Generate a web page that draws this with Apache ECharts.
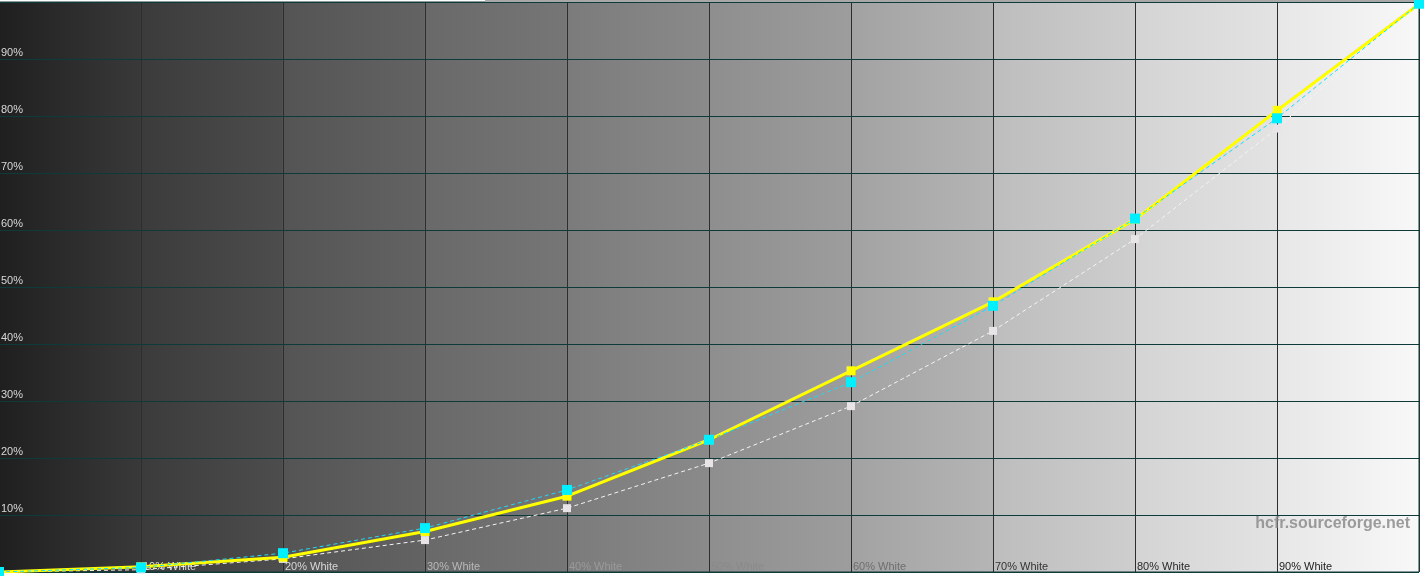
<!DOCTYPE html>
<html>
<head>
<meta charset="utf-8">
<script src="https://cdn.jsdelivr.net/npm/echarts@6/dist/echarts.min.js"></script>
<style>
  html, body { margin: 0; padding: 0; background: #ffffff; }
  #main { width: 1424px; height: 576px; }
</style>
</head>
<body>
<div id="main"></div>
<script>
// stimulus levels (% white)
var levels = [0, 10, 20, 30, 40, 50, 60, 70, 80, 90, 100];
// measured luminance (%)
var measured = [0, 0.9, 2.6, 7.1, 13.3, 23.2, 35.3, 47.4, 61.9, 81.0, 99.7];
var reference = [0, 0.8, 3.3, 7.7, 14.4, 23.2, 33.3, 46.7, 62.0, 79.6, 99.7];
var target = [0, 0.4, 2.3, 5.6, 11.2, 19.1, 29.1, 42.3, 58.4, 77.8, 100];
var yTicks = ['', '10%', '20%', '30%', '40%', '50%', '60%', '70%', '80%', '90%', ''];
var xTicks = ['', '10% White', '20% White', '30% White', '40% White', '50% White',
              '60% White', '70% White', '80% White', '90% White', ''];
var xTickColors = ['#ddd', '#dddddd', '#d8d8d8', '#b8b8b8', '#9a9a9a', '#8a8a8a',
                   '#6e6e6e', '#333333', '#2a2a2a', '#222222', '#222'];

function pairs(vals) {
    return levels.map(function (l, i) { return [l, vals[i]]; });
}

var myChart = echarts.init(document.getElementById('main'));

// grey ramp behind the plot, one step per 10% column
var ramp = ['#1f1f1f', '#393939', '#3b3b3b', '#4d4d4d', '#545454', '#636363', '#696969', '#767676',
            '#7b7b7b', '#8a8a8a', '#8e8e8e', '#9d9d9d', '#a2a2a2', '#b5b5b5', '#bdbdbd', '#cecece',
            '#d4d4d4', '#e3e3e3', '#e7e7e7', '#f8f8f8'];
var stops = [];
for (var i = 0; i < 10; i++) {
    stops.push({ offset: i / 10, color: ramp[i * 2] });
    stops.push({ offset: (i + 1) / 10 - 0.0005, color: ramp[i * 2 + 1] });
}

var option = {
    animation: false,
    backgroundColor: '#ffffff',
    grid: {
        left: -1, right: 5, top: 2, bottom: 4,
        outerBoundsMode: 'none',
        containLabel: false,
        show: true,
        backgroundColor: new echarts.graphic.LinearGradient(0, 0, 1, 0, stops),
        borderColor: '#123838',
        borderWidth: 1
    },
    graphic: [
        { type: 'rect', shape: { x: 485, y: 0, width: 939, height: 2 }, style: { fill: '#a8a8a8' } },
        {
            type: 'text', right: 14, top: 516, z: 1,
            style: {
                text: 'hcfr.sourceforge.net',
                font: 'bold 16px "Liberation Sans", Arial, sans-serif',
                fill: 'rgba(140,140,140,0.85)'
            }
        }
    ],
    xAxis: {
        type: 'value', min: 0, max: 100, interval: 10,
        axisLine: { show: false },
        axisTick: { show: false },
        splitLine: { show: true, lineStyle: { color: '#0f3a3a', width: 1 } },
        axisLabel: {
            inside: true,
            margin: 0,
            align: 'left',
            verticalAlign: 'bottom',
            fontFamily: '"Liberation Sans", Arial, sans-serif',
            fontSize: 11,
            padding: [0, 0, 0, 2],
            color: function (v) { return xTickColors[Math.round(v / 10)]; },
            formatter: function (v) { return xTicks[Math.round(v / 10)]; }
        }
    },
    yAxis: {
        type: 'value', min: 0, max: 100, interval: 10,
        axisLine: { show: false },
        axisTick: { show: false },
        splitLine: { show: true, lineStyle: { color: '#0f3a3a', width: 1 } },
        axisLabel: {
            inside: true,
            margin: 2,
            verticalAlign: 'bottom',
            fontFamily: '"Liberation Sans", Arial, sans-serif',
            fontSize: 11,
            color: '#d8d8d8',
            padding: [0, 0, 1, 0],
            formatter: function (v) { return yTicks[Math.round(v / 10)]; }
        }
    },
    series: [
        {
            name: 'target', type: 'line', data: pairs(target),
            symbol: 'rect', symbolSize: 8, z: 2,
            lineStyle: { color: '#f4f4f4', width: 1, type: [4, 3] },
            itemStyle: { color: '#e8e4e8' }
        },
        {
            name: 'measured', type: 'line', data: pairs(measured),
            symbol: 'rect', symbolSize: 9, z: 3,
            lineStyle: { color: '#ffff00', width: 3 },
            itemStyle: { color: '#ffff00' }
        },
        {
            name: 'reference', type: 'line', data: pairs(reference),
            symbol: 'rect', symbolSize: 10, z: 4,
            lineStyle: { color: '#22d8f0', width: 1, type: [4, 3] },
            itemStyle: { color: '#00f0ff' }
        }
    ]
};

myChart.setOption(option);
</script>
</body>
</html>
